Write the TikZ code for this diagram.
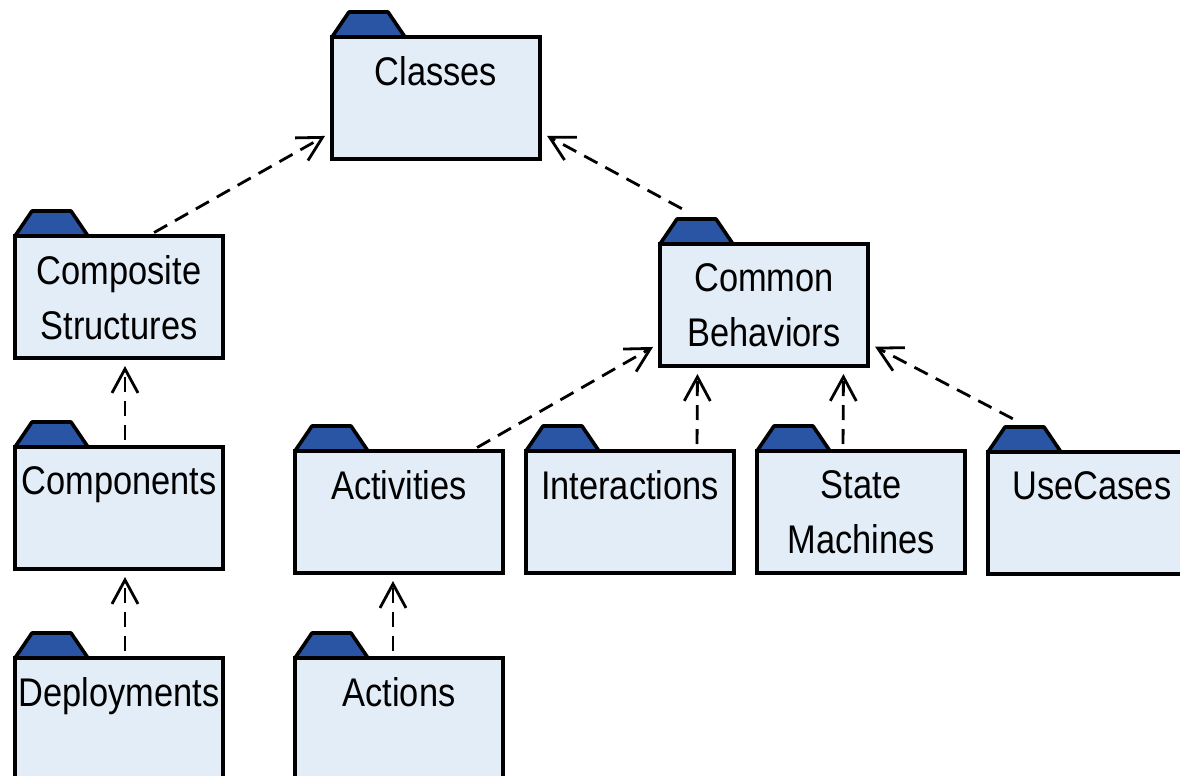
\documentclass[tikz,border=0pt]{standalone}
\usepackage{fontspec}
\setmainfont{Liberation Sans}[FakeStretch=0.86]
\usetikzlibrary{arrows.meta}
\definecolor{pkgfill}{RGB}{227,237,248}
\definecolor{tabblue}{RGB}{42,84,164}

\begin{document}
\begin{tikzpicture}[x=0.5pt,y=-0.5pt,
    pkg/.style={draw,fill=pkgfill,line width=1.8pt,outer sep=0pt,minimum width=104pt,minimum height=61pt,anchor=north west,label={[pkgtext]north:#1}},
    pkgtext/.style={anchor=north,yshift=-9.5pt,inner sep=0pt,draw=none,fill=none,align=center,font=\fontsize{20}{27.5}\selectfont},
    tab/.style={draw,fill=tabblue,line width=1.8pt,line join=round},
    dep/.style={-{Straight Barb[length=12pt,width=13pt]},line width=1.4pt,dash pattern=on 7.5pt off 4.5pt,shorten <=3.5pt,shorten >=4pt}]
    \useasboundingbox (0,0) rectangle (1180,776);
    \clip (0,0) rectangle (1180,776);

    \node[pkg=Classes] (classes) at (332,37) {};
    \node[pkg={Composite\\Structures},every label/.append style={yshift=6pt}] (composite) at (15,236) {};
    \node[pkg=Components] (components) at (15,447) {};
    \node[pkg=Deployments] (deployments) at (15,658) {};
    \node[pkg=Activities] (activities) at (295,451) {};
    \node[pkg=Actions] (actions) at (295,658) {};
    \node[pkg={Common\\Behaviors}] (cb) at (660,244) {};
    \node[pkg=Interactions] (interactions) at (526,451) {};
    \node[pkg={State\\Machines}] (statem) at (757,451) {};
    \node[pkg=UseCases] (usecases) at (988,452) {};

    \foreach \p in {classes,composite,components,deployments,activities,actions,cb,interactions,statem,usecases}
        \draw[tab] (\p.north west) -- ++(17,-25) -- ++(39,0) -- ++(17,25) -- cycle;

    \draw[dep] ([xshift=14.5pt]composite.north) -- ([yshift=-17pt]classes.west);
    \draw[dep] ([xshift=-38pt,yshift=16pt]cb.north) -- ([yshift=-17pt]classes.east);
    \draw[dep] ([xshift=3pt]components.north) -- ([xshift=3pt]composite.south);
    \draw[dep] ([xshift=3pt]deployments.north) -- ([xshift=3pt]components.south);
    \draw[dep] ([xshift=-3pt]actions.north) -- ([xshift=-3pt]activities.south);
    \draw[dep] ([xshift=36pt]activities.north) -- ([yshift=-19pt]cb.west);
    \draw[dep] ([xshift=33.5pt]interactions.north) -- ([xshift=-33.25pt]cb.south);
    \draw[dep] ([xshift=-9pt]statem.north) -- ([xshift=39.75pt]cb.south);
    \draw[dep] ([xshift=-36.5pt,yshift=15pt]usecases.north) -- ([yshift=-19pt]cb.east);
\end{tikzpicture}
\end{document}
